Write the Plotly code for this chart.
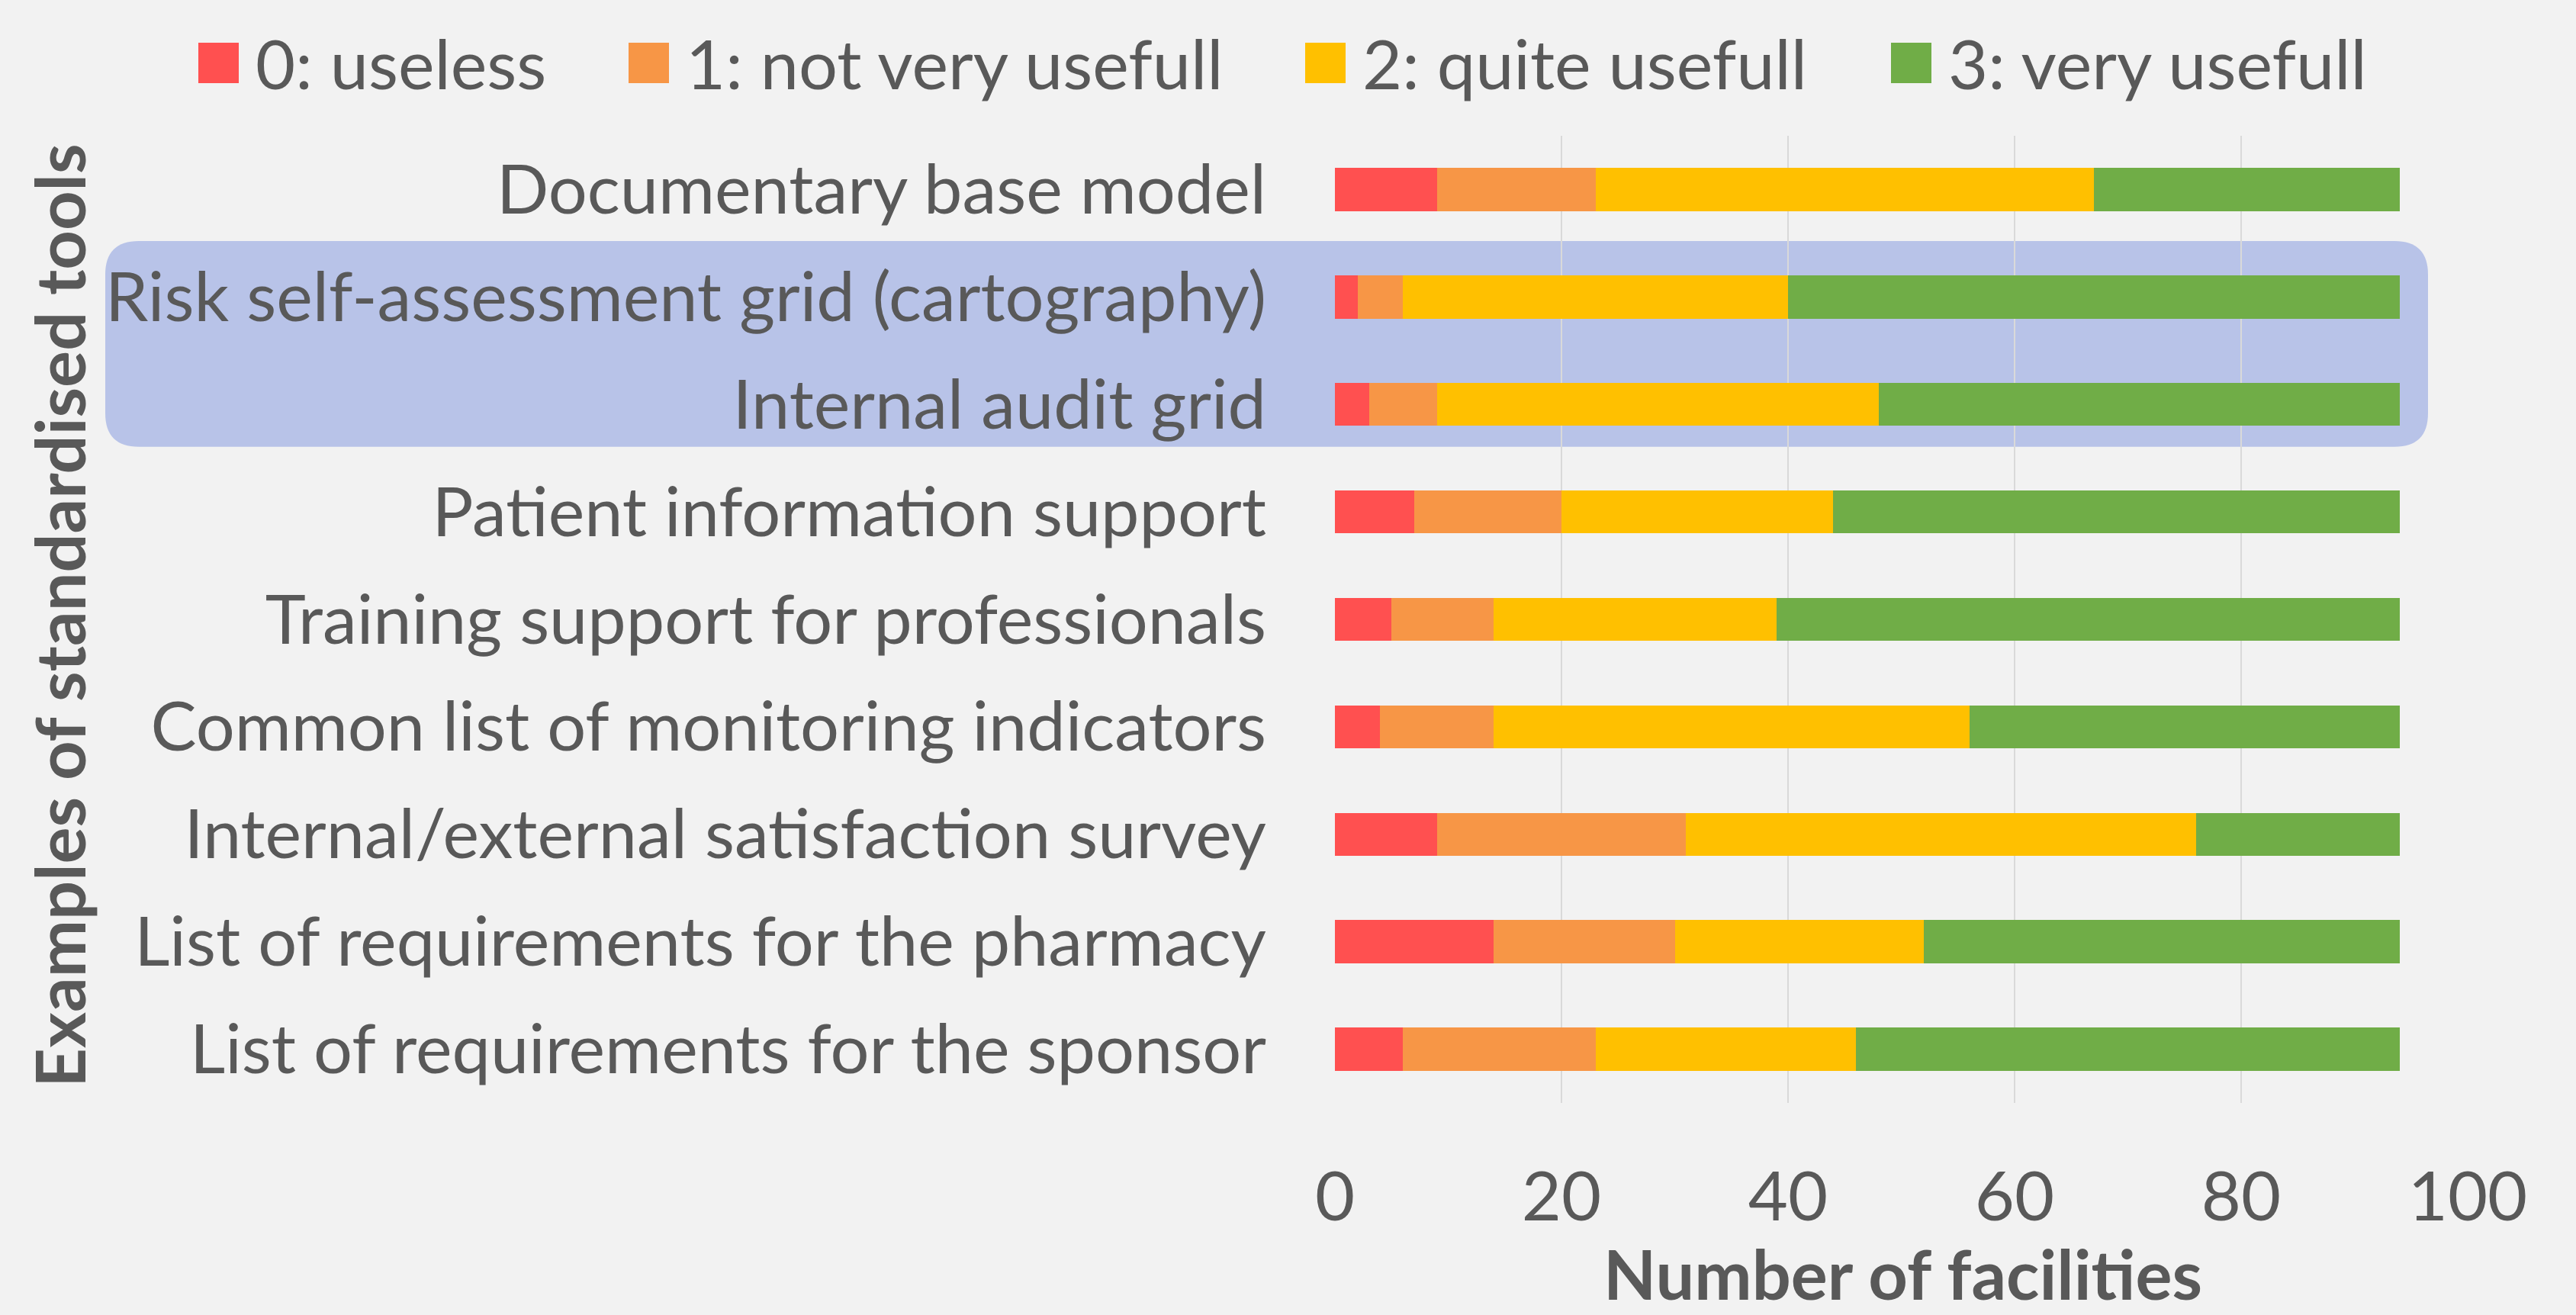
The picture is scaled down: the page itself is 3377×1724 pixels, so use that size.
import plotly.graph_objects as go

categories = [
    "Documentary base model",
    "Risk self-assessment grid (cartography)",
    "Internal audit grid",
    "Patient information support",
    "Training support for professionals",
    "Common list of monitoring indicators",
    "Internal/external satisfaction survey",
    "List of requirements for the pharmacy",
    "List of requirements for the sponsor",
]
series_names = ["0: useless", "1: not very usefull", "2: quite usefull", "3: very usefull"]
useless = [9, 2, 3, 7, 5, 4, 9, 14, 6]
not_very = [14, 4, 6, 13, 9, 10, 22, 16, 17]
quite = [44, 34, 39, 24, 25, 42, 45, 22, 23]
very = [27, 54, 46, 50, 55, 38, 18, 42, 48]
x_ticks = [0, 20, 40, 60, 80, 100]
x_title = "Number of facilities"
y_title = "Examples of standardised tools"

colors = ["#FF5050", "#F79646", "#FFC000", "#70AD47"]
values = [useless, not_very, quite, very]

W_PX, H_PX = 3377, 1724
L, R, T, B = 1750, 3235, 178, 1446.5
PW, PH = R - L, B - T


def px(x):
    return (x - L) / PW


def py(y):
    return (B - y) / PH


FONT = "Lato, Carlito, Calibri, sans-serif"
TXT = "#595959"
FS = 90

fig = go.Figure()
for name, vals, col in zip(series_names, values, colors):
    fig.add_trace(go.Bar(
        y=categories, x=vals, name=name, orientation="h",
        marker=dict(color=col, line=dict(width=0)),
        showlegend=False,
    ))

# highlight box (rounded)
x0, x1, y0, y1, r = 138, 3183, 316, 586, 44
pts = [
    ("M", [(x0 + r, y0)]), ("L", [(x1 - r, y0)]), ("Q", [(x1, y0), (x1, y0 + r)]),
    ("L", [(x1, y1 - r)]), ("Q", [(x1, y1), (x1 - r, y1)]), ("L", [(x0 + r, y1)]),
    ("Q", [(x0, y1), (x0, y1 - r)]), ("L", [(x0, y0 + r)]), ("Q", [(x0, y0), (x0 + r, y0)]),
]
path = " ".join(cmd + " " + " ".join(f"{px(a):.5f},{py(b):.5f}" for a, b in p) for cmd, p in pts) + " Z"
shapes = [dict(type="path", xref="paper", yref="paper", path=path,
               fillcolor="#B8C3E8", line=dict(width=0), layer="below")]

annotations = []
# manual legend
leg_x = [260, 824, 1711, 2479]
sq = 53
leg_y0, leg_y1 = 56, 109
for lx, name, col in zip(leg_x, series_names, colors):
    shapes.append(dict(type="rect", xref="paper", yref="paper",
                       x0=px(lx), x1=px(lx + sq), y0=py(leg_y1), y1=py(leg_y0),
                       fillcolor=col, line=dict(width=0)))
    annotations.append(dict(xref="paper", yref="paper", x=px(lx + sq + 20), y=py(82),
                            xanchor="left", yanchor="middle", text=name, showarrow=False,
                            font=dict(family=FONT, size=FS, color=TXT)))

# axis titles
annotations.append(dict(xref="paper", yref="paper", x=px(77), y=py(808), textangle=-90,
                        xanchor="center", yanchor="middle", text=f"<b>{y_title}</b>",
                        showarrow=False, font=dict(family=FONT, size=FS, color=TXT)))
annotations.append(dict(xref="paper", yref="paper", x=px(2494), y=py(1614),
                        xanchor="center", yanchor="top", text=f"<b>{x_title}</b>",
                        showarrow=False, font=dict(family=FONT, size=FS, color=TXT)))

fig.update_layout(
    width=W_PX, height=H_PX,
    barmode="stack", bargap=0.6,
    paper_bgcolor="#F2F2F2", plot_bgcolor="#F2F2F2",
    margin=dict(l=L, r=W_PX - R, t=T, b=H_PX - B, pad=0, autoexpand=False),
    font=dict(family=FONT, color=TXT, size=FS),
    shapes=shapes, annotations=annotations,
    showlegend=False,
)
fig.update_xaxes(range=[0, 100], tickvals=x_ticks, showgrid=True, gridcolor="#D9D9D9",
                 gridwidth=2, zeroline=False, showline=False,
                 ticks="outside", ticklen=45, tickcolor="rgba(0,0,0,0)",
                 tickfont=dict(family=FONT, size=FS, color=TXT), automargin=False)
fig.update_yaxes(categoryorder="array", categoryarray=categories,
                 range=[len(categories) - 0.5, -0.5],
                 showgrid=False, zeroline=False, showline=False,
                 ticks="outside", ticklen=71, tickcolor="rgba(0,0,0,0)",
                 tickfont=dict(family=FONT, size=FS, color=TXT), automargin=False)

fig.write_html("out.html", config={"displayModeBar": False},
               post_script="document.body.style.margin='0px';document.body.style.overflow='hidden';")
